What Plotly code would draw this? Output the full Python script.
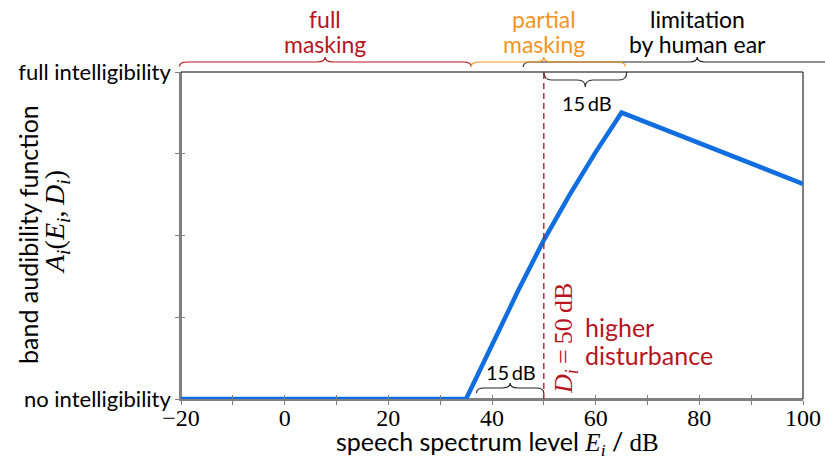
import plotly.graph_objects as go

# ---- data ----
speech_level = [-20, 35, 40, 45, 50, 55, 60, 65, 100]
audibility = [0.0, 0.0, 0.165, 0.33, 0.486, 0.625, 0.755, 0.876, 0.658]
x_tick_vals = [-20, -10, 0, 10, 20, 30, 40, 50, 60, 70, 80, 90, 100]
x_tick_text = ["\u221220", "", "0", "", "20", "", "40", "", "60", "", "80", "", "100"]
y_tick_vals = [0, 0.25, 0.5, 0.75, 1.0]
y_tick_text = ["no intelligibility", "", "", "", "full intelligibility"]
disturbance_level = 50
X_MIN, X_MAX = -20, 100

SANS = "Lato"
SERIF = "Liberation Serif"
RED = "#b8141e"
ORANGE = "#f7941d"
BLUE = "#106ee0"
GRAY = "#808080"

fig = go.Figure()
fig.add_trace(go.Scatter(x=speech_level, y=audibility, mode="lines",
                         line=dict(color=BLUE, width=4.5), showlegend=False,
                         hoverinfo="skip"))
fig.add_trace(go.Scatter(x=[None], y=[None], xaxis="x2", yaxis="y2",
                         showlegend=False, hoverinfo="skip"))


def brace(x0, x1, xm, y, e, t, r):
    return (f"M {x0},{y+e} Q {x0},{y} {x0+r},{y} L {xm-r},{y} "
            f"Q {xm},{y} {xm},{y+t} Q {xm},{y} {xm+r},{y} "
            f"L {x1-r},{y} Q {x1},{y} {x1},{y+e}")


def px(x):
    return (x - X_MIN) / (X_MAX - X_MIN)


PX = 1 / 327.0  # one pixel in paper-y units
RX = 8 / 622.0  # brace corner radius in paper-x units


def ypix(p):
    """paper-y for a pixel row of the 825x457 canvas (plot spans rows 72..399)"""
    return (399 - p) * PX


def xpix(p):
    return (p - 181) / 622.0


shapes = []
# frame
shapes.append(dict(type="rect", xref="paper", yref="paper", x0=0, x1=1, y0=0, y1=1,
                   line=dict(color="black", width=1), layer="below"))
# top region braces
ytop = ypix(62)
shapes.append(dict(type="path", xref="paper", yref="paper",
                   path=brace(px(-20.3), px(36), px(7.8), ytop, -4.5 * PX, 5 * PX, RX),
                   line=dict(color=RED, width=1.2)))
shapes.append(dict(type="path", xref="paper", yref="paper",
                   path=brace(px(46), px(113.2), px(79.6), ytop, -5 * PX, 5 * PX, RX),
                   line=dict(color="#222222", width=1.2)))
shapes.append(dict(type="path", xref="paper", yref="paper",
                   path=brace(px(36), px(65.7), px(50), ytop, -4.5 * PX, 5 * PX, RX),
                   line=dict(color=ORANGE, width=1.2)))
# inner braces (15 dB)
shapes.append(dict(type="path", xref="x", yref="y",
                   path=brace(50, 66, 58, ypix(80), 8 * PX, -7 * PX, 1.5),
                   line=dict(color="#333333", width=1.2)))
shapes.append(dict(type="path", xref="x", yref="y",
                   path=brace(37, 50, 43.5, ypix(388), -5 * PX, 5 * PX, 1.5),
                   line=dict(color="#222222", width=1.2)))
# disturbance line
shapes.append(dict(type="line", xref="x", yref="paper", x0=disturbance_level,
                   x1=disturbance_level, y0=0, y1=1,
                   line=dict(color=RED, width=1.3, dash="6px,4px")))

SER = "<span style=\"font-family:'Liberation Serif'\">"
annotations = []


def label(text, x, y, size, color="black", family=SANS, xref="x", xanchor="center",
          angle=0):
    annotations.append(dict(text=text, x=x, y=y, xref=xref, yref="paper",
                            showarrow=False, xanchor=xanchor, yanchor="middle",
                            textangle=angle,
                            font=dict(family=family, size=size, color=color)))


label("full", 7.8, ypix(19), 23, RED)
label("masking", 7.8, ypix(44), 23, RED)
label("partial", 50, ypix(19), 23, ORANGE)
label("masking", 50, ypix(44), 23, ORANGE)
label("limitation", 79.6, ypix(19), 23)
label("by human ear", 79.6, ypix(44), 23)
label("15\u2009dB", 58.3, ypix(103), 20)
label("15\u2009dB", 43.6, ypix(372), 20)
label("<i>D</i><sub><i>i</i></sub>\u2009=\u200950\u2009dB", 54.1, ypix(339), 26, RED,
      family=SERIF, angle=-90)
label("higher", 57.6, ypix(327), 25, RED, xanchor="left")
label("disturbance", 57.6, ypix(355), 25, RED, xanchor="left")
label("band audibility function", xpix(28), ypix(235), 25, xref="paper", angle=-90)
label("<i>A</i><sub><i>i</i></sub>(<i>E</i><sub><i>i</i></sub>,\u2009<i>D</i><sub><i>i</i></sub>)",
      xpix(56), ypix(222), 28, family=SERIF, xref="paper", angle=-90)
label("speech spectrum level " + SER + "<i>E</i><sub><i>i</i></sub></span>"
      " / " + SER + "dB</span>", xpix(497), ypix(443), 25, xref="paper")

axis_common = dict(showgrid=False, zeroline=False, automargin=False)
fig.update_layout(
    width=825, height=457,
    margin=dict(l=181, r=22, t=72, b=58, autoexpand=False),
    paper_bgcolor="white", plot_bgcolor="white",
    xaxis=dict(range=[X_MIN, X_MAX], tickvals=x_tick_vals, ticktext=x_tick_text,
               ticks="outside", ticklen=4, tickcolor=GRAY, tickwidth=1,
               ticklabelstandoff=-8,
               showline=True, linecolor=GRAY, linewidth=1.5,
               tickfont=dict(family=SERIF, size=24, color="black"), **axis_common),
    yaxis=dict(range=[0, 1], tickvals=y_tick_vals, ticktext=y_tick_text,
               ticks="outside", ticklen=4, tickcolor=GRAY, tickwidth=1,
               showline=True, linecolor=GRAY, linewidth=1.5,
               tickfont=dict(family=SANS, size=22, color="black"), **axis_common),
    xaxis2=dict(range=[X_MIN, X_MAX], tickvals=x_tick_vals, ticks="inside", ticklen=4,
                tickcolor=GRAY, showticklabels=False, overlaying="x", anchor="y2",
                showline=False, **axis_common),
    yaxis2=dict(range=[0, 1], tickvals=y_tick_vals, ticks="inside", ticklen=4,
                tickcolor=GRAY, showticklabels=False, overlaying="y", anchor="x2",
                side="left", showline=False, **axis_common),
    shapes=shapes,
    annotations=annotations,
)

fig.write_html("out.html", config={"displayModeBar": False},
               post_script="document.body.style.margin='0';")
